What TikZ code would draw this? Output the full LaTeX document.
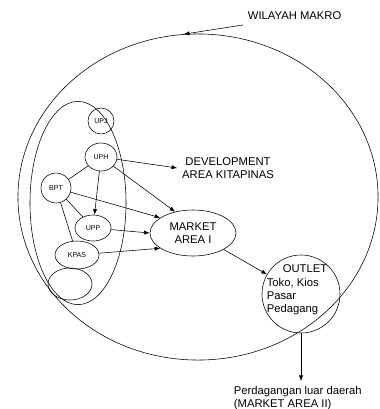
\documentclass[tikz,border=0pt]{standalone}
\usepackage{fontspec}
\setmainfont{Liberation Sans}
\usetikzlibrary{shapes.geometric,arrows.meta,calc,positioning}
\tikzset{
    auto,semithick,
    zone/.style ={ellipse, draw, inner sep=0pt},
    unit/.style ={ellipse, draw, inner sep=0pt, font=\fontsize{5}{6}\selectfont},
    link/.style={-{Latex[length=4pt,width=3pt]}},
    tie/.style={-}
}

\begin{document}
\begin{tikzpicture}[x=0.025cm, y=-0.025cm, every node/.style={font=\fontsize{8}{9.5}\selectfont}]

  \useasboundingbox (0,0) rectangle (380,409);

  % wilayah makro
  \node[zone, minimum width=9cm, minimum height=8.15cm] (makro) at (198,197) {};
  \node[anchor=west] (wlabel) at (243,16) {WILAYAH MAKRO};
  \draw[link] (wlabel.south west) -- (makro.95);

  % development area
  \node[zone, minimum width=2.4cm, minimum height=5.08cm] (area) at (78,203) {};
  \node[unit, minimum width=6.5mm, minimum height=6.5mm] (upj)  at (101,121) {UPJ};
  \node[unit, minimum width=8mm, minimum height=7mm]     (uph)  at (101,157) {UPH};
  \node[unit, minimum width=7.5mm, minimum height=7.5mm] (bpt)  at (56,188)  {BPT};
  \node[unit, minimum width=9mm, minimum height=6.5mm]   (upp)  at (93,228)  {UPP};
  \node[unit, minimum width=11mm, minimum height=7mm]    (kpas) at (77,255)  {KPAS};
  \node[unit, minimum width=11mm, minimum height=8mm]    (sub)  at (70,284)  {};

  \node[align=center] (dev) at (228,168) {DEVELOPMENT\\AREA KITAPINAS};
  \node[zone, minimum width=21.5mm, minimum height=11.5mm, align=center] (market) at (193,233) {MARKET\\AREA I};

  % outlet
  \node[zone, minimum width=19.5mm, minimum height=19.5mm] (outlet) at (301,294) {};
  \node[align=left] (otext) at (297,290) {\hspace*{4mm}OUTLET\\Toko, Kios\\Pasar\\Pedagang};
  \node[anchor=north west, align=left] (luar) at (229,381) {Perdagangan luar daerah\\(MARKET AREA II)};

  \draw[link] (uph) -- (dev.west);
  \draw[link] (uph) -- (upp);
  \draw[tie] (bpt) -- (uph);
  \draw[tie] (bpt) -- (upp);
  \draw[tie] (bpt) -- (kpas);
  \draw[link] (uph) -- (market.130);
  \draw[link] (bpt) -- (market.155);
  \draw[link] (upp) -- (market.180);
  \draw[link] (kpas) -- (market.205);
  \draw[link] (market.south east) -- (outlet.150);
  \draw[link] (outlet.south) -- (outlet.south |- luar.north);
\end{tikzpicture}
\end{document}
